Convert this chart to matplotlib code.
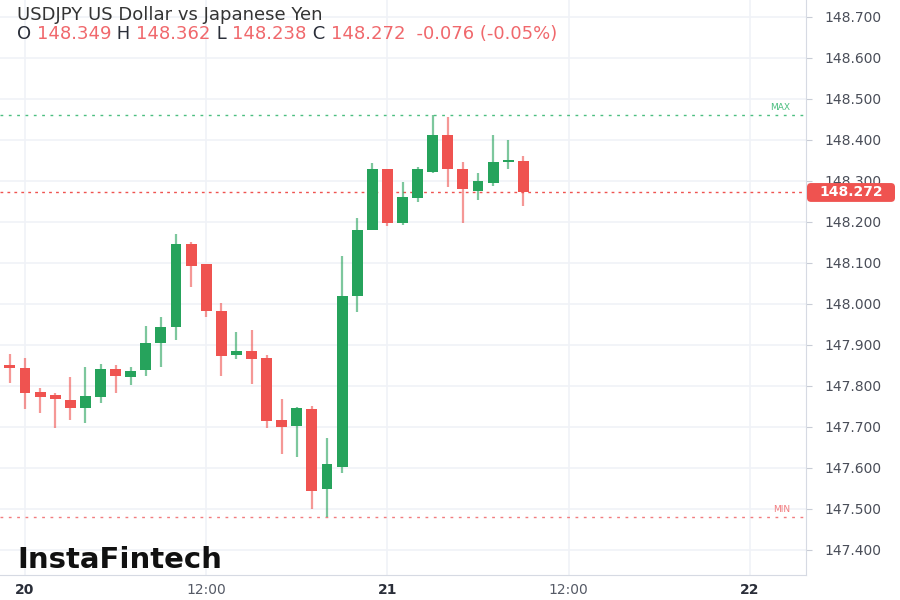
import numpy as np
import matplotlib
matplotlib.use("Agg")
import matplotlib.pyplot as plt
from matplotlib.patches import FancyBboxPatch
from matplotlib.transforms import blended_transform_factory

# hourly candles, x = hours from 20th 00:00
hours = np.arange(-2, 34)
opens = [147.853, 147.851, 147.844, 147.785, 147.778, 147.766, 147.746, 147.773, 147.841, 147.822,
         147.839, 147.905, 147.944, 148.146, 148.098, 147.983, 147.876, 147.885, 147.868, 147.717,
         147.702, 147.744, 147.549, 147.602, 148.020, 148.180, 148.329, 148.198, 148.259, 148.322,
         148.412, 148.329, 148.276, 148.295, 148.346, 148.349]
highs = [147.860, 147.878, 147.868, 147.795, 147.783, 147.822, 147.846, 147.854, 147.851, 147.846,
         147.946, 147.968, 148.171, 148.151, 148.098, 148.002, 147.932, 147.937, 147.876, 147.768,
         147.748, 147.751, 147.673, 148.117, 148.210, 148.344, 148.329, 148.298, 148.334, 148.461,
         148.456, 148.346, 148.320, 148.412, 148.400, 148.362]
lows = [147.845, 147.807, 147.744, 147.734, 147.698, 147.717, 147.710, 147.759, 147.783, 147.802,
        147.824, 147.846, 147.912, 148.041, 147.968, 147.824, 147.866, 147.805, 147.698, 147.634,
        147.627, 147.500, 147.480, 147.588, 147.980, 148.180, 148.190, 148.193, 148.249, 148.320,
        148.285, 148.198, 148.254, 148.288, 148.329, 148.238]
closes = [147.850, 147.844, 147.783, 147.773, 147.768, 147.746, 147.776, 147.841, 147.824, 147.837,
          147.905, 147.944, 148.146, 148.093, 147.983, 147.873, 147.885, 147.866, 147.715, 147.700,
          147.746, 147.544, 147.610, 148.020, 148.180, 148.329, 148.198, 148.261, 148.329, 148.412,
          148.329, 148.280, 148.300, 148.346, 148.351, 148.272]

price_ticks = [147.4, 147.5, 147.6, 147.7, 147.8, 147.9, 148.0, 148.1, 148.2, 148.3, 148.4, 148.5, 148.6, 148.7]
time_ticks = [0, 12, 24, 36, 48]
time_labels = ["20", "12:00", "21", "12:00", "22"]

title = "USDJPY US Dollar vs Japanese Yen"
last_price = closes[-1]

GREEN = "#26a35c"
RED = "#ef5350"
TXT_RED = "#f0686c"
DARK = "#2a2e39"
GRID = "#f0f2f7"

fig = plt.figure(figsize=(9, 6), dpi=100)
ax = fig.add_axes([0, 25 / 600, 806 / 900, 575 / 600])
ax.set_facecolor("white")

o = np.array(opens); c = np.array(closes); h = np.array(highs); l = np.array(lows)
up = c >= o
cols = np.where(up, GREEN, RED)
body_low = np.minimum(o, c)
body_h = np.maximum(np.abs(c - o), 0.004)

ax.vlines(hours, l, h, colors=cols, linewidth=1.6, alpha=0.6, zorder=2)
ax.bar(hours, body_h, bottom=body_low, width=0.72, color=cols, zorder=3, linewidth=0)

ax.set_xlim(-25 / 15.1, 781 / 15.1)
ax.set_ylim(148.7 - 558 / 410, 148.7 + 17 / 410)

# grid
for p in price_ticks:
    ax.axhline(p, color=GRID, linewidth=1.2, zorder=0)
for t in time_ticks:
    ax.axvline(t, color=GRID, linewidth=1.2, zorder=0)

# max / min / last price lines
pmax, pmin = max(highs), min(lows)
ax.axhline(pmax, color="#4cbf80", linewidth=1, linestyle=(0, (2, 4)), zorder=1)
ax.axhline(pmin, color="#f27c7f", linewidth=1, linestyle=(0, (2, 4)), zorder=1)
ax.axhline(last_price, color=RED, linewidth=1, linestyle=(0, (2, 3)), zorder=1)
tr = blended_transform_factory(ax.transAxes, ax.transData)
ax.text(0.98, pmax + 0.008, "MAX", transform=tr, ha="right", va="bottom",
        fontsize=6.5, color="#4cbf80")
ax.text(0.98, pmin + 0.008, "MIN", transform=tr, ha="right", va="bottom",
        fontsize=6.5, color="#f27c7f")

# axes styling
for s in ["top", "left"]:
    ax.spines[s].set_visible(False)
ax.spines["right"].set_color("#d6dae3")
ax.spines["bottom"].set_color("#d6dae3")
ax.yaxis.tick_right()
ax.set_yticks(price_ticks)
ax.set_yticklabels(["%.3f" % p for p in price_ticks])
ax.tick_params(axis="y", length=4, width=0.8, color="#c8ccd6", pad=9, labelsize=10, labelcolor="#4a4e59")
ax.set_xticks(time_ticks)
ax.set_xticklabels(time_labels)
ax.tick_params(axis="x", length=0, pad=6, labelsize=10, labelcolor=DARK)
for lab in ax.get_xticklabels():
    if ":" not in lab.get_text():
        lab.set_fontweight("bold")
    else:
        lab.set_color("#555a66")

# last price tag
ftr = blended_transform_factory(fig.transFigure, ax.transData)
tag = FancyBboxPatch((807 / 900, last_price - 0.023), 88 / 900, 0.046,
                     boxstyle="round,pad=0,rounding_size=0.0045", transform=ftr,
                     facecolor=RED, edgecolor="none", zorder=5, mutation_aspect=2.2)
fig.patches.append(tag)
fig.text(851 / 900, last_price, "%.3f" % last_price, transform=ftr, ha="center", va="center",
         color="white", fontsize=10, fontweight="bold", zorder=6)

# header
fig.text(17 / 900, 1 - 15 / 600, title, fontsize=13, color="#333333", va="center")
fig.canvas.draw()
rend = fig.canvas.get_renderer()
pieces = [("O ", DARK), ("148.349", TXT_RED), (" H ", DARK), ("148.362", TXT_RED),
          (" L ", DARK), ("148.238", TXT_RED), (" C ", DARK), ("148.272", TXT_RED),
          ("  -0.076 (-0.05%)", TXT_RED)]
x = 17
for txt, col in pieces:
    t = fig.text(x / 900, 1 - 34 / 600, txt, fontsize=13, color=col, va="center")
    bb = t.get_window_extent(renderer=rend)
    x += bb.width

# watermark
fig.text(17 / 900, 1 - 560 / 600, "InstaFintech", fontsize=21, fontweight="bold",
         color="#111111", va="center")

fig.savefig("out.png", dpi=100, facecolor="white")
